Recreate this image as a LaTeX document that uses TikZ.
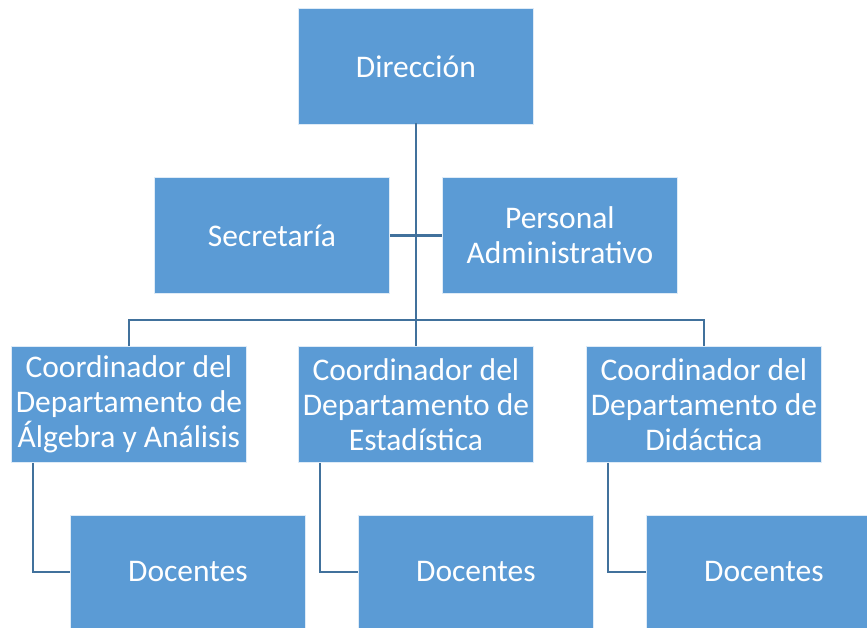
\documentclass[tikz,border=0pt]{standalone}
\usepackage{fontspec}
\setmainfont{Carlito}
\definecolor{boxblue}{HTML}{5B9BD5}
\definecolor{lineblue}{HTML}{41719C}
\begin{document}
\begin{tikzpicture}[x=1pt,y=-1pt,
  orgbox/.style={fill=boxblue, draw=white!80!boxblue, line width=0.8pt, minimum width=235pt, minimum height=116pt,
    inner sep=0pt, anchor=north west, text=white, align=center,
    font=\fontsize{31.5}{35}\selectfont},
  conn/.style={draw=lineblue, line width=2.6pt}]
\useasboundingbox (0,0) rectangle (867,628);
\clip (0,0) rectangle (867,628);
\node[orgbox] (dir) at (298,8) {Dirección};
\node[orgbox] (sec) at (154,177) {Secretaría};
\node[orgbox] (pers) at (442,177) {Personal\\Administrativo};
\node[orgbox] (c1) at (11,346) {Coordinador del\\Departamento de\\Álgebra y Análisis};
\node[orgbox] (c2) at (298,346) {Coordinador del\\Departamento de\\Estadística};
\node[orgbox] (c3) at (586,346) {Coordinador del\\Departamento de\\Didáctica};
\node[orgbox, minimum height=113pt] (d1) at (70,515) {Docentes};
\node[orgbox, minimum height=113pt] (d2) at (358,515) {Docentes};
\node[orgbox, minimum height=113pt] (d3) at (646,515) {Docentes};
\coordinate (bar) at (415,320);
% connectors
\draw[conn] ([yshift=2pt]dir.south) -- (c2.north);
\draw[conn] (sec.east) -- (pers.west);
\draw[conn] (c1.north) |- (bar) -| (c3.north);
\draw[conn] ([xshift=22pt]c1.south west) |- (d1.west);
\draw[conn] ([xshift=22pt]c2.south west) |- (d2.west);
\draw[conn] ([xshift=22pt]c3.south west) |- (d3.west);
\end{tikzpicture}
\end{document}
